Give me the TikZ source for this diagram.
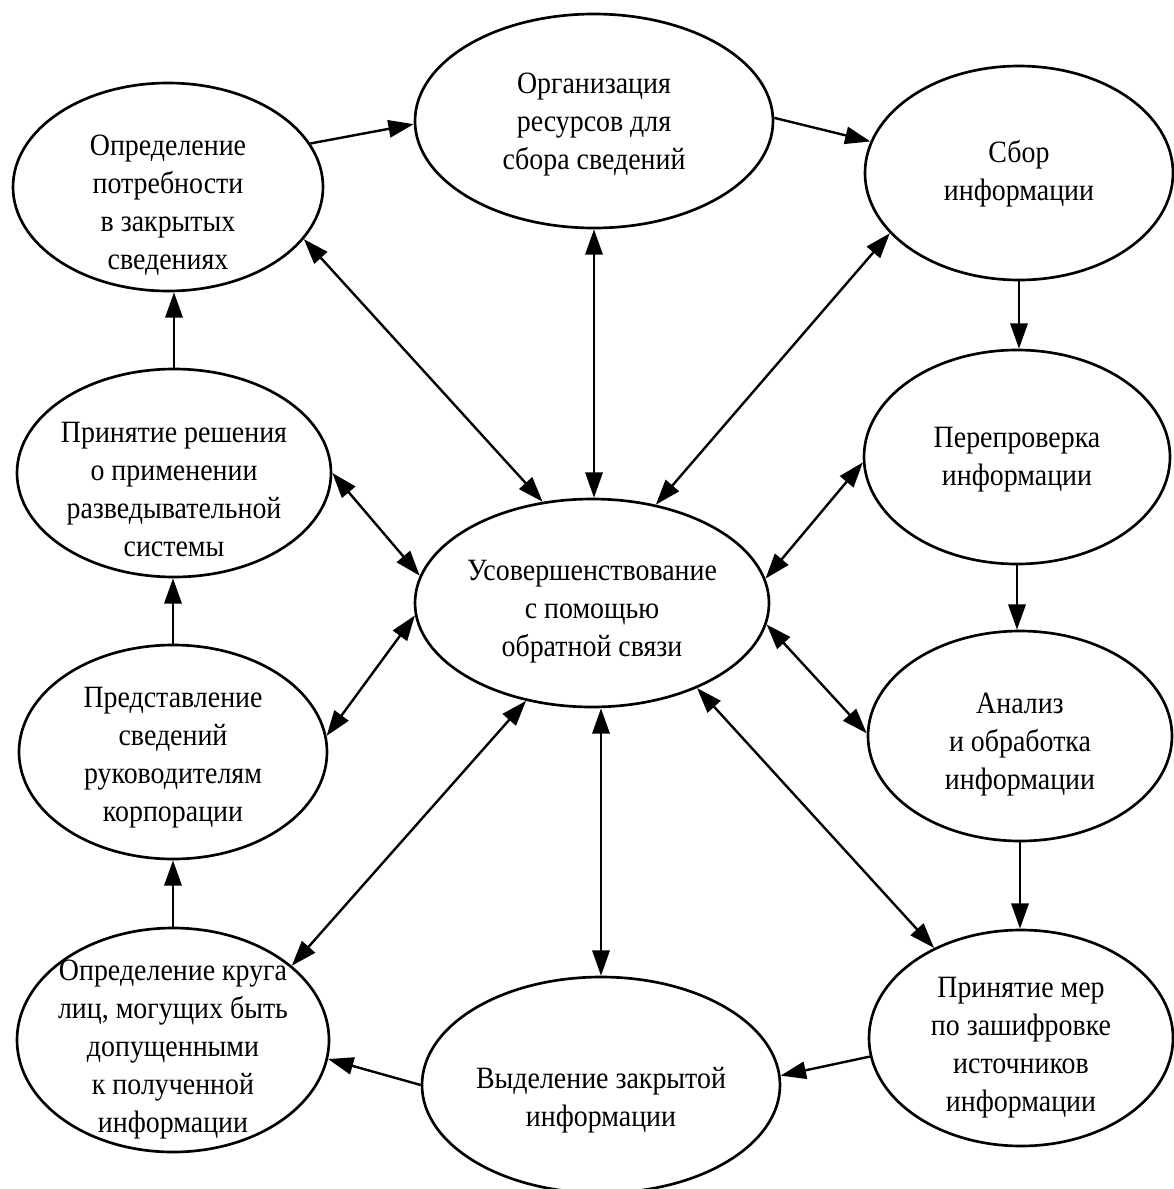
\documentclass[tikz,border=0pt]{standalone}
\usepackage{fontspec}
\setmainfont{Liberation Serif}[FakeStretch=0.9]
\usetikzlibrary{arrows.meta,shapes.geometric}
\begin{document}
\begin{tikzpicture}[x=0.75pt,y=-0.75pt,
  ell/.style n args={2}{draw, ellipse, line width=2pt, inner sep=0pt,
     minimum width=#1*1.5pt, minimum height=#2*1.5pt},
  lab/.style={align=center, inner sep=0pt, font=\fontsize{23.25pt}{28.5pt}\selectfont},
  ftri/.tip={Triangle[length=19pt,width=13pt]},
  arr/.style={line width=1.8pt, -ftri},
  darr/.style={line width=1.8pt, ftri-ftri}]
\useasboundingbox (0,0) rectangle (1174,1189);
\fill[white] (0,0) rectangle (1174,1189);

% ellipses
\node[ell={155}{104}] (n1) at (168,187) {};
\node[ell={179}{107}] (n2) at (594,121) {};
\node[ell={154}{107}] (n3) at (1019,173) {};
\node[ell={153}{107}] (n4) at (1017,457) {};
\node[ell={152}{105}] (n5) at (1020,736) {};
\node[ell={152}{108}] (n6) at (1021,1038) {};
\node[ell={179}{108}] (n7) at (601,1085) {};
\node[ell={156}{112}] (n8) at (173,1040) {};
\node[ell={154}{107}] (n9) at (173,752) {};
\node[ell={157}{104}] (n10) at (174,473) {};
\node[ell={177}{104}] (c) at (592,603) {};

% texts
\node[lab] (t1) at (168,205) {Определение\\потребности\\в закрытых\\сведениях};
\node[lab] (t2) at (594,125) {Организация\\ресурсов для\\сбора сведений};
\node[lab] (t3) at (1019,174) {Сбор\\информации};
\node[lab] (t4) at (1017,460) {Перепроверка\\информации};
\node[lab] (t5) at (1020,745) {Анализ\\и обработка\\информации};
\node[lab] (t6) at (1021,1048) {Принятие мер\\по зашифровке\\источников\\информации};
\node[lab] (t7) at (601,1100) {Выделение закрытой\\информации};
\node[lab] (t8) at (173,1050) {Определение круга\\лиц, могущих быть\\допущенными\\к полученной\\информации};
\node[lab] (t9) at (173,758) {Представление\\сведений\\руководителям\\корпорации};
\node[lab] (t10) at (174,489) {Принятие решения\\о применении\\разведывательной\\системы};
\node[lab] (tc) at (592,612) {Усовершенствование\\с помощью\\обратной связи};

% cycle arrows
\draw[arr] (n1.17) -- (n2.181);
\draw[arr] (n2.1) -- (n3.168);
\draw[arr] (n3.south) -- (n3.south |- n4.north);
\draw[arr] (n4.south) -- (n4.south |- n5.north);
\draw[arr] (n5.south) -- (n5.south |- n6.north);
\draw[arr] (n6.187) -- (n7.3);
\draw[arr] (n7.180) -- (n8.353);
\draw[arr] (n8.north) -- (n8.north |- n9.south);
\draw[arr] (n9.north) -- (n9.north |- n10.south);
\draw[arr] (n10.north) -- (n10.north |- n1.south);

% feedback arrows
\draw[darr] (n1.339) -- (c.116);
\draw[darr] (n2.south) -- (n2.south |- c.north);
\draw[darr] (n3.205) -- (c.57);
\draw[darr] (n4.182) -- (c.8);
\draw[darr] (c.353) -- (n5.179);
\draw[darr] (c.321) -- (n6.134);
\draw[darr] (c.south -| n7.north) -- (n7.north);
\draw[darr] (c.236) -- (n8.32);
\draw[darr] (c.184) -- (n9.6);
\draw[darr] (n10.0) -- (c.171);
\end{tikzpicture}
\end{document}
